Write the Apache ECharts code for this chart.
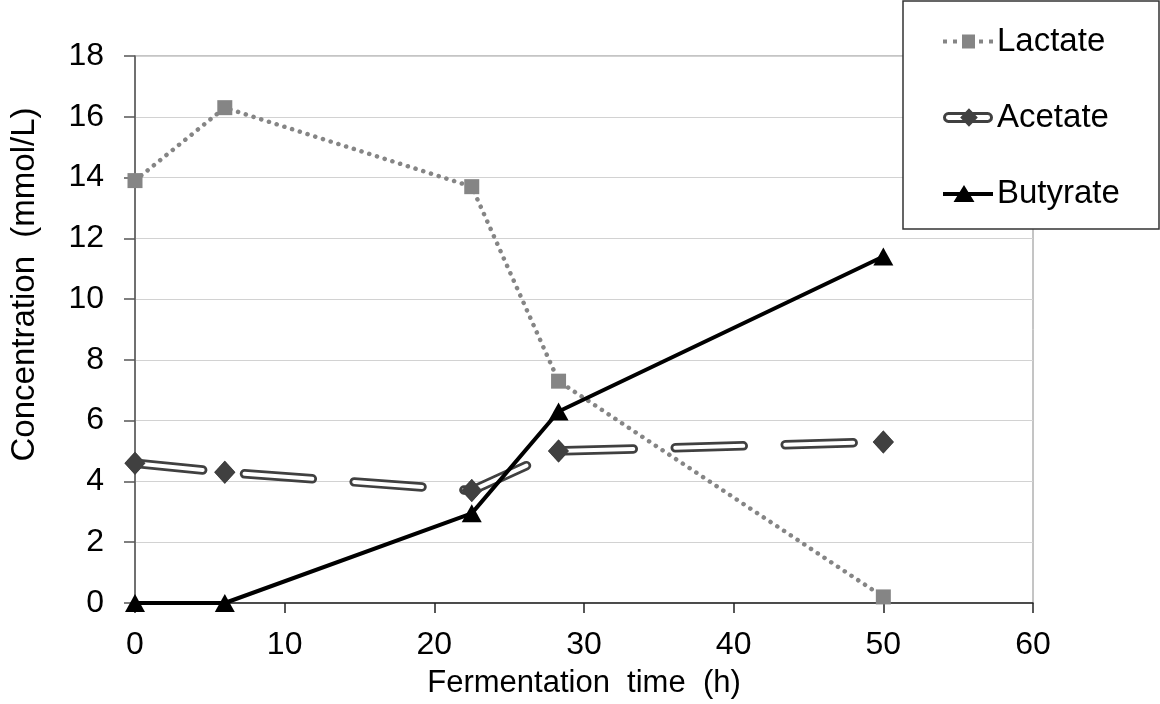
<!DOCTYPE html>
<html>
	<head>
		<meta charset="UTF-8">
		<title>Fermentation</title>
		<script src="https://cdn.jsdelivr.net/npm/echarts@6.0.0/dist/echarts.min.js"></script>
		<style>
			html, body { margin: 0; padding: 0; background: #fff; }
			#main { width: 1160px; height: 704px; }
		</style>
	</head>
	<body>
		<div id="main"></div>
		<script type="text/javascript">
			// 数据
			var hours = [0, 6, 22.5, 28.3, 50];
			var lactate = [13.9, 16.3, 13.7, 7.3, 0.2];
			var acetate = [4.6, 4.3, 3.7, 5.0, 5.3];
			var butyrate = [0, 0, 2.95, 6.3, 11.4];
			var seriesNames = ['Lactate', 'Acetate', 'Butyrate'];

			function pairs(values) {
				return hours.map(function (h, i) { return [h, values[i]]; });
			}

			var font = 'Liberation Sans, Arial, sans-serif';
			var acetateDash = [68, 42];

			// legend icons drawn as paths (50 x 19 box)
			var lactateIcon = 'path://M0 5H4V9H0Z M10 5H14V9H10Z M19 0H32V14H19Z M36 5H40V9H36Z M46 5H50V9H46Z';
			var acetateIcon = 'path://M5 4H45A5.5 5.5 0 0 1 45 15H5A5.5 5.5 0 0 1 5 4Z ' +
				'M5 7A2.5 2.5 0 0 0 5 12H45A2.5 2.5 0 0 0 45 7Z ' +
				'M26 0L35 9.5L26 19L17 9.5Z';
			var butyrateIcon = 'path://M0 7H50V11H0Z M21 0L31.5 17L10.5 17Z';

			var myChart = echarts.init(document.getElementById('main'));

			var option = {
				animation: false,
				backgroundColor: '#fff',
				textStyle: { fontFamily: font },
				grid: {
					left: 131,
					right: 127,
					top: 56,
					bottom: 99,
					show: true,
					borderColor: '#8a8a8a',
					borderWidth: 1
				},
				xAxis: {
					type: 'value',
					min: 0,
					max: 60,
					interval: 10,
					name: 'Fermentation  time  (h)',
					nameLocation: 'middle',
					nameGap: 65,
					nameTextStyle: { fontSize: 31, color: '#000', fontFamily: font },
					axisLine: { lineStyle: { color: '#222', width: 1.5 } },
					axisTick: { show: true, length: 10, lineStyle: { color: '#222', width: 1.5 } },
					axisLabel: { fontSize: 32, color: '#000', margin: 26 },
					splitLine: { show: false }
				},
				yAxis: {
					type: 'value',
					min: 0,
					max: 18,
					interval: 2,
					name: 'Concentration  (mmol/L)',
					nameLocation: 'middle',
					nameGap: 94,
					nameRotate: 90,
					nameTextStyle: { fontSize: 33, color: '#000', fontFamily: font, padding: [0, 0, 0, 90] },
					axisLine: { show: true, lineStyle: { color: '#555', width: 1.5 } },
					axisTick: { show: true, inside: false, length: 11, lineStyle: { color: '#555', width: 1.5 } },
					axisLabel: { fontSize: 32, color: '#000', margin: 31 },
					splitLine: { show: true, lineStyle: { color: '#d2d2d2', width: 1.2 } }
				},
				legend: {
					data: [
						{ name: seriesNames[0], icon: lactateIcon },
						{ name: seriesNames[1], icon: acetateIcon },
						{ name: seriesNames[2], icon: butyrateIcon }
					],
					orient: 'vertical',
					left: 943,
					top: 25,
					itemWidth: 50,
					itemHeight: 19,
					itemGap: 43,
					padding: 0,
					z: 20,
					textStyle: { fontSize: 33, color: '#000', fontFamily: font, padding: [0, 0, 0, -1] }
				},
				graphic: [{
					type: 'rect',
					z: 10,
					shape: { x: 903, y: 1, width: 256, height: 228 },
					style: { fill: '#fff', stroke: '#333', lineWidth: 1.5 }
				}],
				series: [{
					name: 'Lactate',
					type: 'line',
					data: pairs(lactate),
					symbol: 'rect',
					symbolSize: 15,
					itemStyle: { color: '#858585' },
					lineStyle: { color: '#858585', width: 4.5, type: [0.1, 8], cap: 'round' },
					z: 2
				}, {
					name: 'Acetate',
					type: 'line',
					data: pairs(acetate),
					symbol: 'diamond',
					symbolSize: [21, 23],
					itemStyle: { color: '#404040' },
					lineStyle: { color: '#404040', width: 9.5, type: acetateDash, cap: 'round' },
					z: 3
				}, {
					// white core of the outlined Acetate line
					name: 'Acetate core',
					type: 'line',
					data: pairs(acetate),
					symbol: 'diamond',
					symbolSize: [21, 23],
					itemStyle: { color: '#404040' },
					lineStyle: { color: '#fff', width: 4, type: acetateDash, cap: 'round' },
					z: 4
				}, {
					name: 'Butyrate',
					type: 'line',
					data: pairs(butyrate),
					symbol: 'triangle',
					symbolSize: [20, 18],
					itemStyle: { color: '#000' },
					lineStyle: { color: '#000', width: 4 },
					z: 5
				}]
			};
			myChart.setOption(option);
		</script>
	</body>
</html>
